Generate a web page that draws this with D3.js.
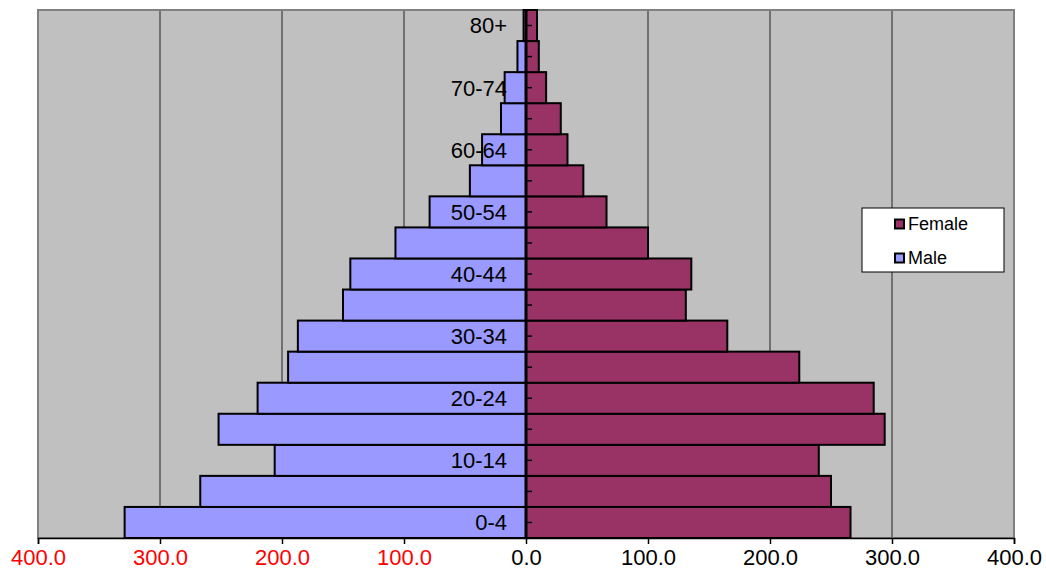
<!DOCTYPE html>
<html><head><meta charset="utf-8">
<script src="https://cdn.jsdelivr.net/npm/d3@7"></script>
<style>body{margin:0;background:#fff}svg{display:block}text{font-family:"Liberation Sans",Arial,sans-serif}</style>
</head><body>
<svg id="c" width="1046" height="574"></svg>
<script>
const categories = ["0-4","5-9","10-14","15-19","20-24","25-29","30-34","35-39","40-44","45-49","50-54","55-59","60-64","65-69","70-74","75-79","80+"];
const male = [329, 267, 206, 252, 220, 195, 187, 150, 144, 107, 79, 46, 36, 20.5, 17.5, 7, 2];
const female = [266, 250, 240, 294, 285, 224, 165, 131, 135.5, 100, 66, 47, 34, 28.5, 16.5, 10.5, 9];
const tickValues = [-400,-300,-200,-100,0,100,200,300,400];
const tickLabels = ["400.0","300.0","200.0","100.0","0.0","100.0","200.0","300.0","400.0"];
const shownLabels = ["0-4","10-14","20-24","30-34","40-44","50-54","60-64","70-74","80+"];
const seriesNames = ["Female","Male"];
const colors = {Female:"#993366", Male:"#9999FF"};

const svg = d3.select("#c");
const L=38, R=1014, T=10, B=538;
const x = d3.scaleLinear().domain([-400,400]).range([L,R]);
const y = d3.scaleBand().domain(categories.slice().reverse()).range([T,B]).padding(0);

svg.append("rect").attr("x",L).attr("y",T).attr("width",R-L).attr("height",B-T).attr("fill","#C0C0C0");
// grid
svg.append("g").selectAll("line").data(tickValues.filter(v=>v!==0 && Math.abs(v)!==400)).join("line")
  .attr("x1",d=>x(d)).attr("x2",d=>x(d)).attr("y1",T).attr("y2",B).attr("stroke","#222").attr("stroke-width",1);
// border
svg.append("rect").attr("x",L).attr("y",T).attr("width",R-L).attr("height",B-T).attr("fill","none").attr("stroke","#808080").attr("stroke-width",2);

// bars
const g = svg.append("g");
g.selectAll("rect.m").data(categories).join("rect").attr("class","m")
  .attr("x",(d,i)=>x(-male[i])).attr("width",(d,i)=>x(0)-x(-male[i]))
  .attr("y",d=>y(d)).attr("height",y.bandwidth())
  .attr("fill",colors.Male).attr("stroke","#000").attr("stroke-width",2);
g.selectAll("rect.f").data(categories).join("rect").attr("class","f")
  .attr("x",x(0)).attr("width",(d,i)=>x(female[i])-x(0))
  .attr("y",d=>y(d)).attr("height",y.bandwidth())
  .attr("fill",colors.Female).attr("stroke","#000").attr("stroke-width",2);

// y axis line and ticks
svg.append("line").attr("x1",x(0)).attr("x2",x(0)).attr("y1",T).attr("y2",B).attr("stroke","#000").attr("stroke-width",3);
svg.append("g").selectAll("line").data(categories).join("line")
  .attr("x1",x(0)).attr("x2",x(0)+6).attr("y1",d=>y(d)+y.bandwidth()/2).attr("y2",d=>y(d)+y.bandwidth()/2)
  .attr("stroke","#000").attr("stroke-width",1.5);
svg.append("g").selectAll("text").data(shownLabels).join("text")
  .attr("x",x(0)-19).attr("y",d=>y(d)+y.bandwidth()/2).attr("dy","0.36em")
  .attr("text-anchor","end").attr("font-size",22).attr("fill","#000").text(d=>d);

// x axis
const xa = svg.append("g").attr("transform",`translate(0,${B})`)
  .call(d3.axisBottom(x).tickValues(tickValues).tickSize(6).tickPadding(5).tickFormat((d,i)=>tickLabels[i]));
xa.select(".domain").attr("stroke","#000").attr("stroke-width",1.5);
xa.selectAll(".tick line").attr("stroke","#000").attr("stroke-width",1.5);
xa.selectAll(".tick text").attr("font-size",22).attr("font-family","Liberation Sans, Arial, sans-serif")
  .attr("fill",d=>d<0?"#FF0000":"#000");

// legend
const lg = svg.append("g").attr("transform","translate(862,208)");
lg.append("rect").attr("width",142).attr("height",64).attr("fill","#fff").attr("stroke","#000").attr("stroke-width",1);
seriesNames.forEach((s,i)=>{
  const yy = 16 + i*34;
  lg.append("rect").attr("x",33).attr("y",yy-4.5).attr("width",9).attr("height",9).attr("fill",colors[s]).attr("stroke","#000").attr("stroke-width",2);
  lg.append("text").attr("x",46).attr("y",yy).attr("dy","0.36em").attr("font-size",18).text(s);
});
</script>
</body></html>
